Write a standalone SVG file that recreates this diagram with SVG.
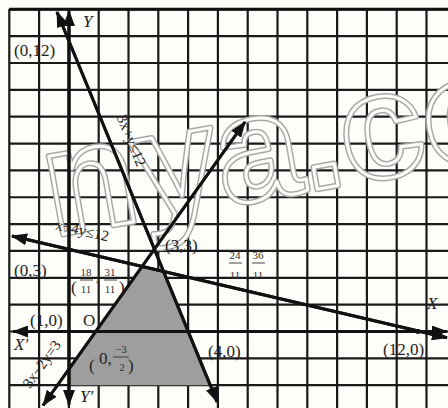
<svg xmlns="http://www.w3.org/2000/svg" width="448" height="408" viewBox="0 0 448 408">
<style>
.grid{stroke:#1a1a1a;stroke-width:2.2;fill:none}
.ln{stroke:#111;stroke-width:3;fill:none;marker-end:url(#ah)}
.lb{font-family:"Liberation Serif",serif;font-size:17px;fill:#222}
.it{font-family:"Liberation Serif",serif;font-style:italic;font-size:17px;fill:#222}
.sm{font-family:"Liberation Serif",serif;font-size:11px;fill:#333;text-anchor:middle}
.eq{font-family:"Liberation Serif",serif;font-size:15px;fill:#222;text-anchor:middle;dominant-baseline:middle}
.fb{stroke:#333;stroke-width:0.9}
.wm{font-family:"Liberation Sans",sans-serif;font-weight:bold;font-size:150px;fill:none;stroke-linejoin:round}
</style>
<defs>
<marker id="ah" viewBox="0 0 16 12" refX="15" refY="6" markerWidth="16" markerHeight="12" markerUnits="userSpaceOnUse" orient="auto">
<path d="M0,0 L16,6 L0,12 z" fill="#111"/>
</marker>
</defs>
<rect width="448" height="408" fill="#fdfdf9"/>
<g id="grid">
<path class="grid" d="M9.3,9 V408 M39.1,9 V408 M68.9,9 V408 M98.7,9 V408 M128.5,9 V408 M158.3,9 V408 M188.1,9 V408 M217.9,9 V408 M247.7,9 V408 M277.5,9 V408 M307.3,9 V408 M337.1,9 V408 M366.9,9 V408 M396.7,9 V408 M426.5,9 V408"/>
<path class="grid" d="M9,9.3 H448 M9,36.15 H448 M9,63 H448 M9,89.85 H448 M9,116.7 H448 M9,143.55 H448 M9,170.4 H448 M9,197.25 H448 M9,224.1 H448 M9,250.95 H448 M9,277.8 H448 M9,304.65 H448 M9,331.5 H448 M9,358.35 H448 M9,385.2 H448"/>
<path d="M9,9.3 H448" stroke="#111" stroke-width="3"/>
</g>
<g id="watermark" transform="rotate(-10 228 205)">
<text class="wm" x="50" y="205" stroke="#a8a8a8" stroke-width="6">nya.co</text>
<text class="wm" x="50" y="205" stroke="#fdfdf9" stroke-width="3">nya.co</text>
</g>
<g id="region">
<polygon points="142,266.4 163,269.5 210.4,385.2 69,385.2 69,368.9" fill="#9e9e9e"/>
</g>
<g id="connectors">
<line class="ln" x1="69" y1="400" x2="69" y2="11"/>
<line class="ln" x1="69" y1="20" x2="69" y2="405"/>
<line class="ln" x1="440" y1="331.5" x2="13" y2="331.5"/>
<line class="ln" x1="20" y1="331.5" x2="447" y2="331.5"/>
<line class="ln" x1="217" y1="402" x2="57" y2="12"/>
<line class="ln" x1="57" y1="12" x2="217.3" y2="402"/>
<line class="ln" x1="447" y1="337.8" x2="12" y2="236"/>
<line class="ln" x1="12" y1="236" x2="447" y2="337.8"/>
<line class="ln" x1="245" y1="122" x2="43" y2="405.5"/>
<line class="ln" x1="43" y1="405.5" x2="245" y2="122"/>
<circle cx="418" cy="331.5" r="2.5" fill="#111"/>
</g>
<g id="labels">
<text class="it" x="83" y="27">Y</text>
<text class="lb" x="14" y="56">(0,12)</text>
<text class="eq" transform="translate(130,141) rotate(67.7)">3x+y≤12</text>
<text class="eq" transform="translate(82,232) rotate(13.2)">x+4y≤12</text>
<text class="lb" x="14" y="276">(0,3)</text>
<text class="lb" x="165" y="251">(3,3)</text>
<text class="lb" x="30" y="326">(1,0)</text>
<text class="lb" x="83" y="326">O</text>
<text class="it" x="14" y="350">X′</text>
<text class="it" x="427" y="309">X</text>
<text class="it" x="80" y="402" font-size="15">Y′</text>
<text class="lb" x="208" y="357">(4,0)</text>
<text class="lb" x="383" y="355">(12,0)</text>
<text class="eq" transform="translate(43,365) rotate(-54.5)">3x−2y=3</text>
<g id="frac1">
<text class="lb" x="71" y="293" font-size="26">(</text>
<text class="sm" x="86" y="276">18</text>
<line class="fb" x1="80" y1="280" x2="93" y2="280"/>
<text class="sm" x="86" y="293">11</text>
<text class="sm" x="97" y="282">,</text>
<text class="sm" x="110" y="276">31</text>
<line class="fb" x1="104" y1="280" x2="117" y2="280"/>
<text class="sm" x="110" y="293">11</text>
<text class="lb" x="119" y="293" font-size="26">)</text>
</g>
<g id="frac2">
<text class="sm" x="235" y="259">24</text>
<line class="fb" x1="229" y1="263" x2="242" y2="263"/>
<text class="sm" x="235" y="279">11</text>
<text class="sm" x="258" y="259">36</text>
<line class="fb" x1="252" y1="263" x2="265" y2="263"/>
<text class="sm" x="258" y="279">11</text>
</g>
<g id="frac3">
<text class="lb" x="89" y="371" font-size="34" fill="#333">(</text>
<text class="lb" x="99" y="364" font-size="13" fill="#333">0,</text>
<text class="sm" x="121" y="353" font-size="12">−3</text>
<line class="fb" x1="113" y1="357" x2="129" y2="357"/>
<text class="sm" x="122" y="371" font-size="12">2</text>
<text class="lb" x="128" y="371" font-size="34" fill="#333">)</text>
</g>
</g>
</svg>
